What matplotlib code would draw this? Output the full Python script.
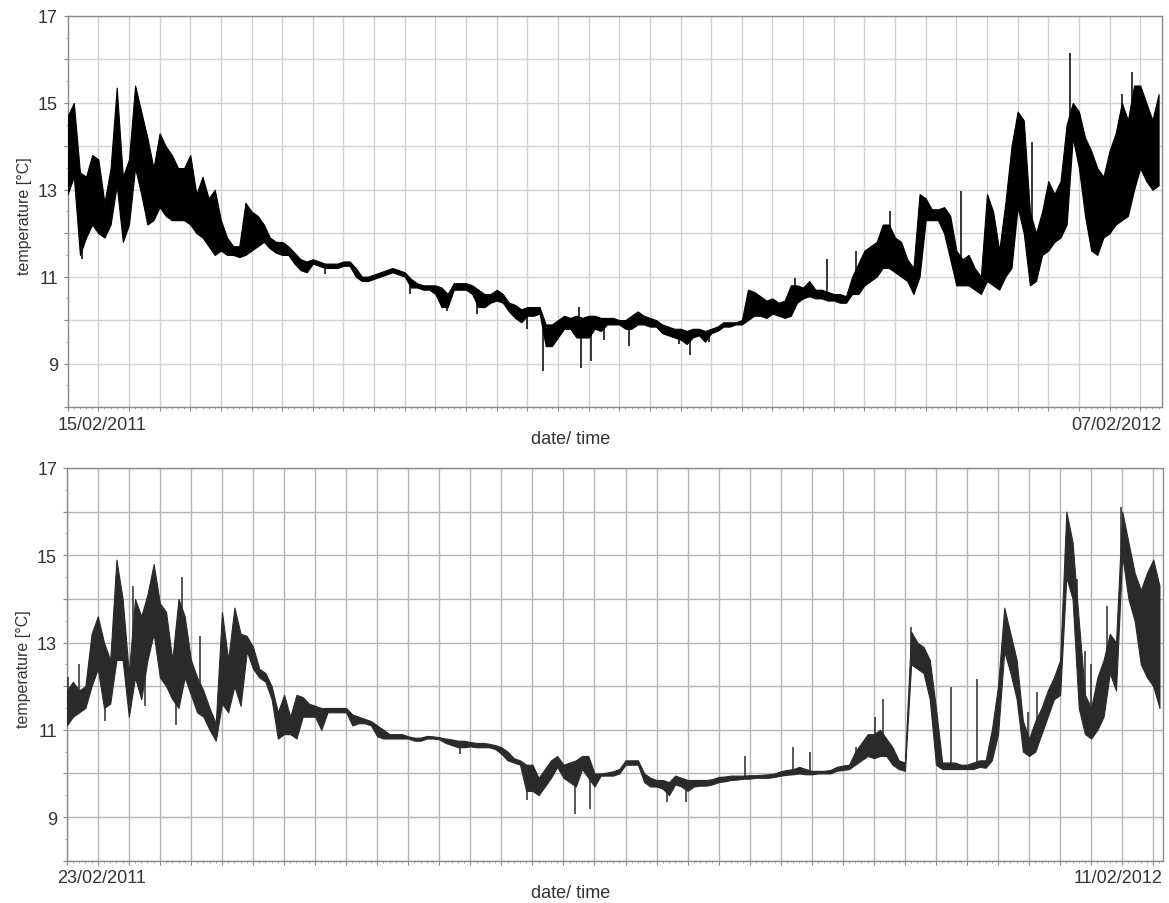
import numpy as np
import matplotlib.pyplot as plt

plt.rcParams['font.family'] = ['Liberation Sans', 'DejaVu Sans']

# ---- upper logger: 15/02/2011 .. 07/02/2012, band low/high every 2 days
top_start, top_end = '15/02/2011', '07/02/2012'
top_span = 357
top_lo = [12.9, 13.3, 11.5, 11.9, 12.2, 12.0, 11.9, 12.2, 13.1, 11.8,
          12.2, 13.5, 12.9, 12.2, 12.3, 12.6, 12.4, 12.3, 12.3, 12.3,
          12.2, 12.0, 11.9, 11.7, 11.5, 11.6, 11.5, 11.5, 11.45, 11.5,
          11.6, 11.7, 11.8, 11.65, 11.55, 11.5, 11.5, 11.3, 11.15, 11.1,
          11.3, 11.25, 11.2, 11.2, 11.2, 11.25, 11.25, 11.0, 10.9, 10.9,
          10.95, 11.0, 11.05, 11.1, 11.05, 11.0, 10.75, 10.75, 10.7, 10.7,
          10.6, 10.3, 10.3, 10.7, 10.7, 10.7, 10.6, 10.3, 10.3, 10.4,
          10.45, 10.4, 10.2, 10.05, 9.95, 10.1, 10.1, 10.15, 9.4, 9.4,
          9.6, 9.8, 9.8, 9.6, 9.6, 9.6, 9.8, 9.75, 9.9, 9.9,
          9.9, 9.8, 9.8, 9.9, 9.9, 9.85, 9.85, 9.7, 9.65, 9.6,
          9.55, 9.45, 9.6, 9.65, 9.5, 9.7, 9.75, 9.85, 9.85, 9.9,
          9.9, 10.0, 10.1, 10.1, 10.05, 10.15, 10.1, 10.05, 10.1, 10.4,
          10.5, 10.55, 10.5, 10.5, 10.45, 10.45, 10.4, 10.4, 10.6, 10.6,
          10.8, 10.9, 11.0, 11.2, 11.2, 11.1, 11.0, 10.9, 10.6, 11.0,
          12.3, 12.3, 12.3, 12.0, 11.4, 10.8, 10.8, 10.8, 10.7, 10.6,
          10.9, 10.8, 10.7, 11.0, 11.2, 12.6, 12.0, 10.8, 10.9, 11.5,
          11.6, 11.8, 11.9, 12.2, 14.2, 13.5, 12.4, 11.6, 11.5, 11.9,
          12.0, 12.2, 12.3, 12.4, 13.0, 13.5, 13.2, 13.0, 13.1]
top_hi = [14.7, 15.0, 13.4, 13.3, 13.8, 13.7, 12.7, 13.5, 15.35, 13.3,
          13.7, 15.4, 14.8, 14.2, 13.5, 14.3, 14.0, 13.8, 13.5, 13.5,
          13.8, 12.9, 13.3, 12.8, 13.0, 12.3, 11.9, 11.7, 11.7, 12.7,
          12.5, 12.4, 12.2, 11.9, 11.8, 11.8, 11.7, 11.55, 11.4, 11.35,
          11.4, 11.35, 11.3, 11.3, 11.3, 11.35, 11.35, 11.2, 11.0, 11.0,
          11.05, 11.1, 11.15, 11.2, 11.15, 11.1, 10.95, 10.85, 10.8, 10.8,
          10.8, 10.75, 10.6, 10.85, 10.85, 10.85, 10.8, 10.7, 10.6, 10.6,
          10.7, 10.6, 10.4, 10.35, 10.25, 10.3, 10.3, 10.3, 9.9, 9.9,
          10.0, 10.1, 10.05, 10.1, 10.05, 10.1, 10.1, 10.05, 10.05, 10.05,
          10.0, 10.0, 10.1, 10.2, 10.1, 10.05, 10.0, 9.9, 9.85, 9.8,
          9.8, 9.75, 9.8, 9.8, 9.75, 9.8, 9.85, 9.95, 9.95, 9.95,
          10.0, 10.7, 10.65, 10.55, 10.45, 10.5, 10.4, 10.45, 10.8, 10.8,
          10.75, 10.9, 10.7, 10.7, 10.65, 10.6, 10.6, 10.55, 11.0, 11.3,
          11.6, 11.7, 11.8, 12.2, 12.2, 11.9, 11.8, 11.4, 11.2, 12.9,
          12.8, 12.55, 12.55, 12.6, 12.4, 11.6, 11.4, 11.5, 11.2, 11.0,
          12.9, 12.5, 11.6, 12.7, 14.0, 14.8, 14.6, 12.5, 12.0, 12.5,
          13.2, 12.9, 13.2, 14.5, 15.0, 14.8, 14.2, 13.9, 13.5, 13.3,
          13.9, 14.3, 15.0, 14.6, 15.4, 15.4, 15.0, 14.6, 15.2]
top_spike_day = [4.6, 84.0, 111.6, 123.8, 133.6, 149.9, 155.0, 166.8, 167.6,
                 170.9, 174.9, 183.1, 199.4, 203.2, 209.2, 237.5, 247.9, 257.1,
                 268.2, 291.6, 314.8, 327.0, 344.2, 347.4]
top_spike_val = [11.4, 11.05, 10.6, 10.2, 10.15, 9.8, 8.83, 10.3, 8.9,
                 9.05, 9.55, 9.4, 9.45, 9.2, 9.5, 10.97, 11.4, 11.6,
                 12.5, 12.98, 14.1, 16.15, 15.2, 15.7]

# ---- lower logger: 23/02/2011 .. 11/02/2012
bot_start, bot_end = '23/02/2011', '11/02/2012'
bot_span = 353
bot_lo = [11.1, 11.3, 11.4, 11.5, 12.0, 12.4, 11.5, 11.6, 12.6, 12.6,
          11.3, 12.2, 11.7, 12.6, 13.2, 12.2, 12.0, 11.7, 11.5, 12.2,
          11.8, 11.4, 11.3, 11.0, 10.75, 11.6, 11.4, 12.0, 11.55, 12.8,
          12.4, 12.2, 12.1, 11.7, 10.8, 10.9, 10.9, 10.8, 11.3, 11.3,
          11.3, 11.0, 11.4, 11.4, 11.4, 11.4, 11.1, 11.15, 11.15, 11.1,
          10.85, 10.8, 10.8, 10.8, 10.8, 10.8, 10.75, 10.75, 10.8, 10.8,
          10.78, 10.7, 10.65, 10.6, 10.6, 10.62, 10.6, 10.6, 10.6, 10.56,
          10.45, 10.3, 10.25, 10.2, 9.6, 9.6, 9.5, 9.7, 9.9, 10.15,
          9.9, 9.8, 9.7, 10.1, 9.9, 9.7, 9.95, 9.95, 9.95, 10.0,
          10.2, 10.2, 10.2, 9.8, 9.7, 9.7, 9.65, 9.5, 9.75, 9.7,
          9.6, 9.7, 9.72, 9.72, 9.75, 9.8, 9.82, 9.85, 9.86, 9.88,
          9.88, 9.9, 9.9, 9.9, 9.92, 9.95, 9.97, 9.98, 10.0, 9.98,
          9.98, 10.0, 10.0, 10.0, 10.06, 10.08, 10.1, 10.2, 10.3, 10.4,
          10.35, 10.4, 10.4, 10.2, 10.1, 10.06, 12.5, 12.4, 12.3, 11.7,
          10.2, 10.1, 10.1, 10.1, 10.1, 10.1, 10.1, 10.15, 10.13, 10.3,
          10.9, 12.8, 12.3, 11.7, 10.5, 10.4, 10.5, 10.9, 11.3, 11.7,
          11.8, 14.5, 14.0, 11.5, 10.9, 10.8, 11.0, 11.3, 12.3, 11.9,
          15.0, 14.0, 13.5, 12.5, 12.2, 12.0, 11.5]
bot_hi = [11.9, 12.1, 11.9, 12.0, 13.2, 13.6, 13.0, 12.6, 14.9, 14.0,
          12.3, 14.0, 13.6, 14.1, 14.8, 13.9, 13.7, 12.6, 14.0, 13.6,
          12.6, 12.2, 11.9, 11.5, 11.15, 13.7, 12.6, 13.8, 13.2, 13.15,
          12.9, 12.4, 12.3, 12.0, 11.4, 11.8, 11.3, 11.8, 11.75, 11.6,
          11.55, 11.5, 11.5, 11.5, 11.5, 11.5, 11.35, 11.3, 11.25, 11.2,
          11.1, 11.0, 10.9, 10.9, 10.9, 10.85, 10.82, 10.82, 10.86, 10.85,
          10.83, 10.8, 10.78, 10.75, 10.75, 10.72, 10.7, 10.7, 10.68, 10.65,
          10.6, 10.5, 10.35, 10.3, 10.2, 10.2, 9.9, 10.1, 10.3, 10.4,
          10.2, 10.25, 10.3, 10.4, 10.4, 10.0, 10.0, 10.02, 10.05, 10.1,
          10.3, 10.3, 10.3, 10.0, 9.9, 9.85, 9.85, 9.8, 9.95, 9.9,
          9.85, 9.85, 9.85, 9.85, 9.87, 9.92, 9.93, 9.95, 9.95, 9.95,
          9.96, 9.96, 9.97, 9.98, 10.0, 10.05, 10.08, 10.1, 10.15, 10.1,
          10.06, 10.06, 10.06, 10.08, 10.15, 10.18, 10.2, 10.5, 10.7, 10.9,
          10.9, 11.0, 10.8, 10.6, 10.3, 10.25, 13.25, 13.0, 12.9, 12.6,
          11.5, 10.25, 10.25, 10.25, 10.2, 10.2, 10.25, 10.3, 10.3, 11.0,
          12.0, 13.8, 13.2, 12.6, 11.2, 10.8, 11.2, 11.5, 11.9, 12.2,
          12.6, 16.0, 15.3, 13.5, 11.8, 11.5, 12.2, 12.6, 13.2, 13.0,
          16.0, 15.3, 14.6, 14.2, 14.6, 14.9, 14.3]
bot_spike_day = [0.5, 4.0, 12.3, 21.2, 25.2, 35.2, 37.0, 42.9, 126.7, 148.3,
                 163.8, 168.4, 193.5, 199.5, 218.5, 234.0, 239.4, 254.4, 260.3,
                 263.0, 271.8, 285.0, 293.1, 309.7, 312.4, 325.5, 328.0, 330.1,
                 335.0, 339.7]
bot_spike_val = [12.2, 12.5, 11.2, 14.3, 11.55, 11.1, 14.5, 13.15, 10.44, 9.4,
                 9.06, 9.18, 9.35, 9.35, 10.4, 10.6, 10.5, 10.6, 11.3,
                 11.7, 13.35, 11.97, 12.16, 11.4, 11.86, 14.46, 12.8, 12.5,
                 13.84, 16.1]

ytick_vals = list(range(8, 18))
ytick_text = ['' if v % 2 == 0 else str(v) for v in ytick_vals]


def draw_panel(ax, span, lo, hi, sp_day, sp_val, start_lbl, end_lbl, ink, grid_c):
    lo = np.asarray(lo)
    hi = np.asarray(hi)
    days = 2 * np.arange(len(lo))
    ax.fill_between(days, lo, hi, color=ink, lw=0.8, zorder=3)
    base = np.interp(sp_day, days, (lo + hi) / 2)
    ax.vlines(sp_day, base, sp_val, color=ink, lw=1.1, zorder=3)

    ax.set_xlim(0, span)
    ax.set_ylim(8, 17)
    ax.set_xticks(np.arange(0, span, 10))
    ax.set_xticklabels([])
    ax.set_xticks(np.arange(0, span, 2), minor=True)
    ax.set_yticks(ytick_vals)
    ax.set_yticklabels(ytick_text, fontsize=13, color='#333333')
    ax.set_yticks(np.arange(8, 17.01, 0.5), minor=True)
    ax.grid(True, which='major', color=grid_c, lw=1, zorder=0)
    ax.tick_params(which='major', length=3, color='#888888', pad=4)
    ax.tick_params(which='minor', length=1.5, color='#999999')
    for s in ax.spines.values():
        s.set_color('#8c8c8c')
        s.set_linewidth(1)

    ax.set_ylabel('temperature [°C]', fontsize=11.5, color='#333333')
    ax.yaxis.set_label_coords(-0.033, 0.49)
    ax.text(-0.009, -0.022, start_lbl, transform=ax.transAxes, ha='left', va='top',
            fontsize=13, color='#333333')
    ax.text(1.0, -0.022, end_lbl, transform=ax.transAxes, ha='right', va='top',
            fontsize=13, color='#333333')


fig = plt.figure(figsize=(11.69, 9.04), dpi=100)
ax1 = fig.add_axes([0.0579, 0.5487, 0.9358, 0.4325])
ax2 = fig.add_axes([0.0571, 0.0468, 0.9374, 0.4344])

draw_panel(ax1, top_span, top_lo, top_hi, top_spike_day, top_spike_val,
           top_start, top_end, 'black', '#d2d2d2')
draw_panel(ax2, bot_span, bot_lo, bot_hi, bot_spike_day, bot_spike_val,
           bot_start, bot_end, '#2a2a2a', '#b4b4b4')

fig.text(571 / 1169, 1 - 440 / 904, 'date/ time', ha='center', va='center',
         fontsize=13, color='#333333')
fig.text(571 / 1169, 1 - 894 / 904, 'date/ time', ha='center', va='center',
         fontsize=13, color='#333333')

fig.savefig('out.png', dpi=100)
